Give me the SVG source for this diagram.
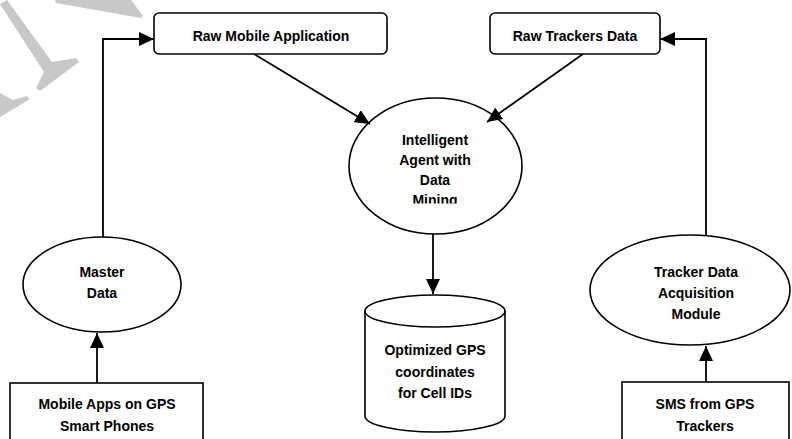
<svg xmlns="http://www.w3.org/2000/svg" width="792" height="439" viewBox="0 0 792 439">
<style>
.shape{fill:#fff;stroke:#000;stroke-width:1.6}
.conn{fill:none;stroke:#000;stroke-width:1.8}
text{font-family:"Liberation Sans",Arial,sans-serif;font-weight:bold;font-size:14px;fill:#000;text-anchor:middle}
.wm{fill:#c8c8c8;stroke:none}
</style>
<defs>
<marker id="arr" viewBox="0 0 15 14" refX="15" refY="7" markerWidth="15" markerHeight="14" markerUnits="userSpaceOnUse" orient="auto">
<path d="M0,0 L15,7 L0,14 Z" fill="#000"/>
</marker>
<clipPath id="clipMining"><rect x="340" y="90" width="200" height="113.5"/></clipPath>
</defs>
<rect width="792" height="439" fill="#fff"/>
<g id="watermark">
<polygon class="wm" points="55,0 131,0 143,16 141,18 56,3"/>
<polygon class="wm" points="0,4 7,0 52,62 76,58 79,62 40,91 36,88 44,72"/>
<polygon class="wm" points="0,93 13,100 27,96 30,99 0,117"/>
</g>
<g id="connectors">
<path class="conn" d="M103,237 V39 H154" marker-end="url(#arr)"/>
<path class="conn" d="M706,247 V39 H660" marker-end="url(#arr)"/>
<path class="conn" d="M254,54 L370,124" marker-end="url(#arr)"/>
<path class="conn" d="M583,54 L487,122" marker-end="url(#arr)"/>
<path class="conn" d="M433,234 V294" marker-end="url(#arr)"/>
<path class="conn" d="M97,383 V333" marker-end="url(#arr)"/>
<path class="conn" d="M706,382 V346" marker-end="url(#arr)"/>
</g>
<g id="raw-mobile">
<rect class="shape" x="154" y="13" width="233" height="41" rx="5"/>
<text x="271" y="41">Raw Mobile Application</text>
</g>
<g id="raw-trackers">
<rect class="shape" x="490" y="13" width="170" height="41" rx="5"/>
<text x="575" y="41">Raw Trackers Data</text>
</g>
<g id="agent">
<ellipse class="shape" cx="435.5" cy="166" rx="86.5" ry="68" fill="none" style="fill:none"/>
<text x="435" y="145">Intelligent</text>
<text x="435" y="165">Agent with</text>
<text x="435" y="185">Data</text>
<text x="435" y="205" clip-path="url(#clipMining)">Mining</text>
</g>
<g id="database">
<path class="shape" d="M365,311 A70,16 0 0 1 505,311 V416 A70,16 0 0 1 365,416 Z"/>
<path class="shape" style="fill:none" d="M365,311 A70,16 0 0 0 505,311"/>
<text x="435" y="355">Optimized GPS</text>
<text x="435" y="377">coordinates</text>
<text x="435" y="398">for Cell IDs</text>
</g>
<g id="master-data">
<ellipse class="shape" cx="102" cy="284.5" rx="79" ry="47.5"/>
<text x="102" y="277">Master</text>
<text x="102" y="298">Data</text>
</g>
<g id="tracker-module">
<ellipse class="shape" cx="690" cy="290" rx="100" ry="55"/>
<text x="696" y="277">Tracker Data</text>
<text x="696" y="298">Acquisition</text>
<text x="696" y="319">Module</text>
</g>
<g id="mobile-apps">
<rect class="shape" x="10" y="383" width="193" height="62"/>
<text x="107" y="409">Mobile Apps on GPS</text>
<text x="107" y="431">Smart Phones</text>
</g>
<g id="sms">
<rect class="shape" x="622" y="382" width="167" height="62"/>
<text x="705" y="409">SMS from GPS</text>
<text x="705" y="431">Trackers</text>
</g>
</svg>
